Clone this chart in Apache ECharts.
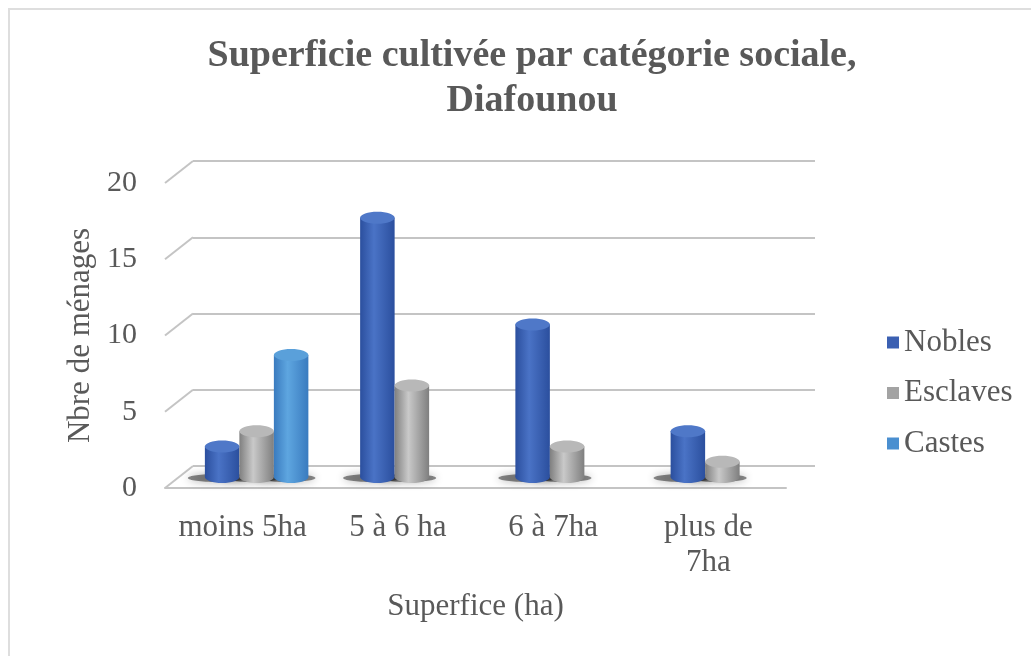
<!DOCTYPE html>
<html>
<head>
<meta charset="utf-8">
<script src="https://cdn.jsdelivr.net/npm/echarts@6/dist/echarts.min.js"></script>
<style>
  html, body { margin: 0; padding: 0; background: #fff; }
  #frame { position: absolute; left: 8px; top: 8px; width: 1100px; height: 700px; border-top: 2px solid #dedede; border-left: 2px solid #dedede; }
  #chart { position: absolute; left: 0; top: 0; width: 1031px; height: 656px; }
</style>
</head>
<body>
<div id="frame"></div>
<div id="chart"></div>
<script>
const categories = ['moins 5ha', '5 à 6 ha', '6 à 7ha', 'plus de\n7ha'];
const nobles = [2, 17, 10, 3];
const esclaves = [3, 6, 2, 1];
const castes = [8, null, null, null];
const yTicks = [0, 5, 10, 15, 20];

const textColor = '#595959';
const font = 'Liberation Serif, Times New Roman, serif';

const palettes = {
  Nobles: { edge: '#2b4f9e', mid: '#4a73c6', top: '#4f78c8', legend: '#3b60b2' },
  Esclaves: { edge: '#7f7f7f', mid: '#c9c9c9', top: '#b8b8b8', legend: '#a3a3a3' },
  Castes: { edge: '#3a7bbf', mid: '#5ea6e0', top: '#5aa0da', legend: '#4a8fd0' }
};

const toPairs = arr => arr.map((v, i) => [i, v]).filter(p => p[1] != null);

const cylinder = (name, slot) => (params, api) => {
  const c = api.value(0);
  const v = api.value(1);
  const top = api.coord([c, v]);
  const base = api.coord([c, 0]);
  const w = 34.5;
  const cx = top[0] + (slot - 1) * w;
  const rx = w / 2, ry = 6;
  const p = palettes[name];
  const body = new echarts.graphic.LinearGradient(0, 0, 1, 0, [
    { offset: 0, color: p.edge },
    { offset: 0.4, color: p.mid },
    { offset: 1, color: p.edge }
  ]);
  return {
    type: 'group',
    children: [
      {
        type: 'ellipse', z2: -1,
        shape: { cx: cx - 5, cy: base[1] + 1, rx: rx + 12, ry: 4 },
        style: { fill: 'rgba(0,0,0,0.45)', shadowBlur: 9, shadowColor: 'rgba(0,0,0,0.7)' }
      },
      { type: 'rect', z2: 1, shape: { x: cx - rx, y: top[1], width: w, height: base[1] - top[1] }, style: { fill: body } },
      { type: 'ellipse', z2: 1, shape: { cx: cx, cy: base[1], rx: rx, ry: ry }, style: { fill: body } },
      { type: 'ellipse', z2: 2, shape: { cx: cx, cy: top[1], rx: rx, ry: ry }, style: { fill: p.top } }
    ]
  };
};

const chart = echarts.init(document.getElementById('chart'));

const yBase = { type: 'value', min: 0, max: 20, interval: 5 };

chart.setOption({
  backgroundColor: 'transparent',
  animation: false,
  title: {
    text: 'Superficie cultivée par catégorie sociale,\nDiafounou',
    left: 527,
    top: 29,
    textAlign: 'center',
    textStyle: { color: textColor, fontFamily: font, fontSize: 38, fontWeight: 'bold', lineHeight: 45 }
  },
  legend: {
    orient: 'vertical',
    left: 882,
    top: 322,
    itemWidth: 12,
    itemHeight: 12,
    itemGap: 19.5,
    icon: 'rect',
    data: ['Nobles', 'Esclaves', 'Castes'],
    textStyle: { color: textColor, fontFamily: font, fontSize: 31 }
  },
  grid: [
    { left: 193, width: 622, top: 161, height: 305 },
    { left: 165, width: 621, top: 183, height: 305 },
    { left: 179, width: 621, top: 172, height: 305 }
  ],
  xAxis: [
    { type: 'category', gridIndex: 0, data: categories, show: false },
    {
      type: 'category', gridIndex: 1, data: categories,
      axisLine: { show: true, lineStyle: { color: '#c4c4c4', width: 2 } },
      axisTick: { show: false },
      axisLabel: { color: textColor, fontFamily: font, fontSize: 31, margin: 22, lineHeight: 35, interval: 0 },
      name: 'Superfice (ha)',
      nameLocation: 'middle',
      nameGap: 103,
      nameTextStyle: { color: textColor, fontFamily: font, fontSize: 31 }
    },
    { type: 'category', gridIndex: 2, data: categories, show: false }
  ],
  yAxis: [
    Object.assign({}, yBase, {
      gridIndex: 0,
      axisLine: { show: false }, axisTick: { show: false }, axisLabel: { show: false },
      splitLine: { lineStyle: { color: '#c4c4c4', width: 2 } }
    }),
    Object.assign({}, yBase, {
      gridIndex: 1,
      axisLine: { show: false }, axisTick: { show: false },
      splitLine: { show: false },
      axisLabel: { color: textColor, fontFamily: font, fontSize: 30, margin: 28 },
      name: 'Nbre de ménages',
      nameLocation: 'middle',
      nameGap: 69,
      nameTextStyle: { color: textColor, fontFamily: font, fontSize: 31 }
    }),
    Object.assign({}, yBase, { gridIndex: 2, show: false, splitLine: { show: false } })
  ],
  series: [
    {
      type: 'custom',
      name: 'wall',
      silent: true,
      xAxisIndex: 1,
      yAxisIndex: 1,
      z: 1,
      data: yTicks.map(v => [0, v]),
      renderItem: (params, api) => {
        const p = api.coord([0, api.value(1)]);
        const left = p[0] - api.size([1, 0])[0] / 2;
        return {
          type: 'line',
          shape: { x1: left, y1: p[1], x2: left + 28, y2: p[1] - 22 },
          style: { stroke: '#c4c4c4', lineWidth: 2 }
        };
      }
    },
    {
      type: 'custom', name: 'Nobles', xAxisIndex: 2, yAxisIndex: 2, z: 3,
      itemStyle: { color: palettes.Nobles.legend },
      data: toPairs(nobles), renderItem: cylinder('Nobles', 0)
    },
    {
      type: 'custom', name: 'Esclaves', xAxisIndex: 2, yAxisIndex: 2, z: 3,
      itemStyle: { color: palettes.Esclaves.legend },
      data: toPairs(esclaves), renderItem: cylinder('Esclaves', 1)
    },
    {
      type: 'custom', name: 'Castes', xAxisIndex: 2, yAxisIndex: 2, z: 3,
      itemStyle: { color: palettes.Castes.legend },
      data: toPairs(castes), renderItem: cylinder('Castes', 2)
    }
  ]
});
</script>
</body>
</html>
